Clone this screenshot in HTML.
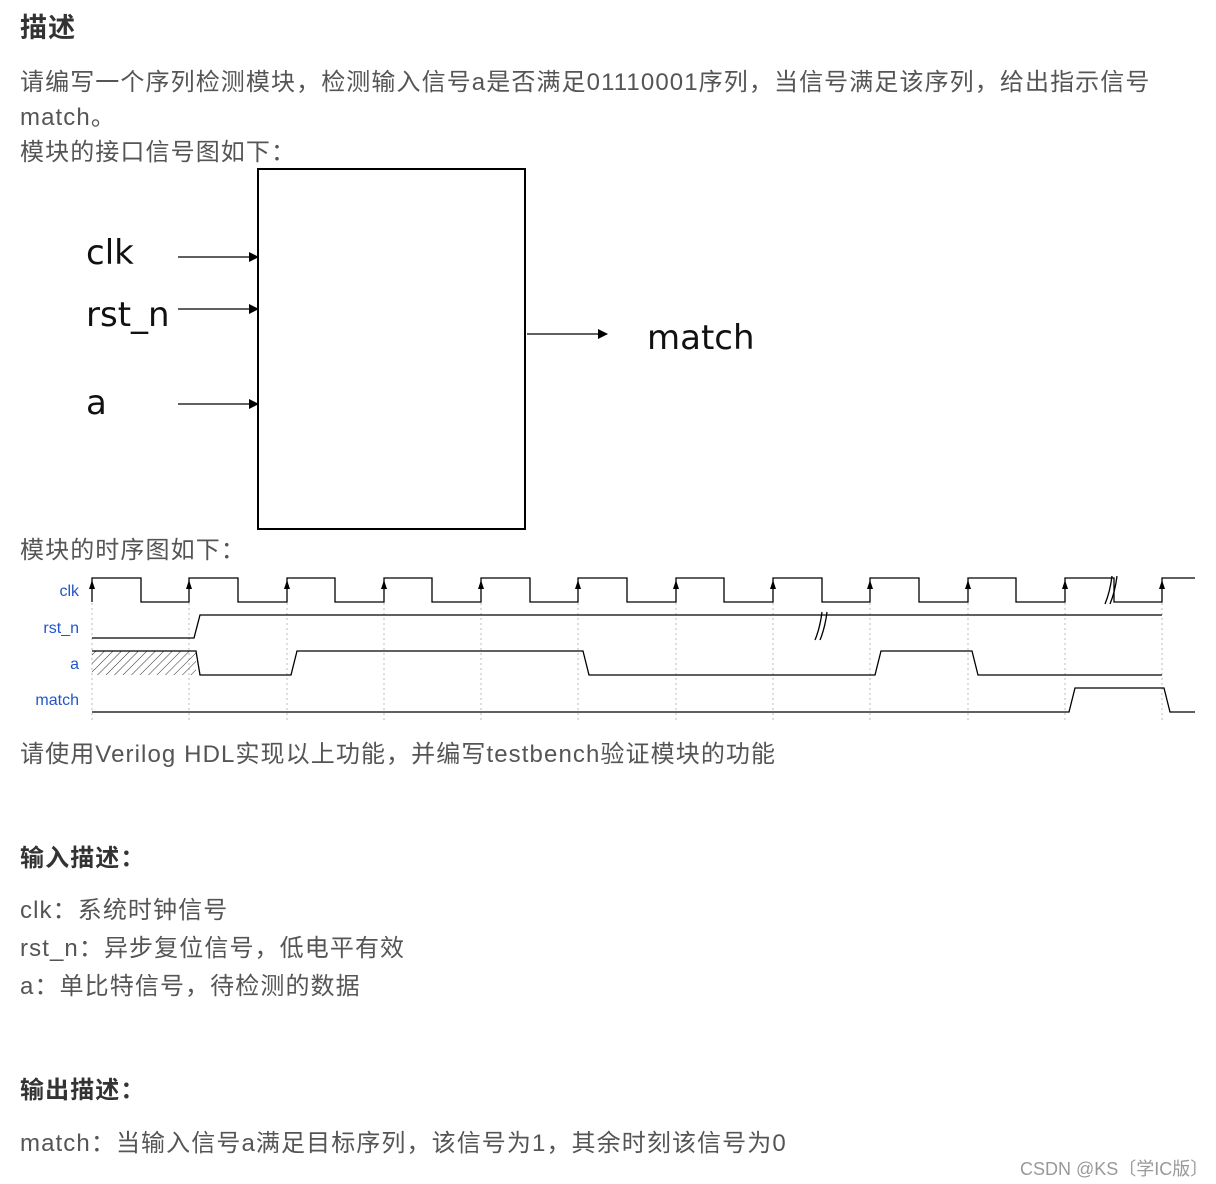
<!DOCTYPE html>
<html><head><meta charset="utf-8"><style>
body{margin:0;width:1216px;height:1184px;background:#fff;position:relative;overflow:hidden;font-family:"Liberation Sans","Noto Sans CJK SC",sans-serif;color:#555}
.t{position:absolute;left:20px;font-size:24px;white-space:nowrap;line-height:30px;letter-spacing:1.1px}
.b{font-weight:bold;color:#333}
</style></head><body>
<div class="t b" style="top:13px;font-size:27px">描述</div>
<div class="t" style="top:68px">请编写一个序列检测模块，检测输入信号a是否满足01110001序列，当信号满足该序列，给出指示信号</div>
<div class="t" style="top:103px">match。</div>
<div class="t" style="top:138px">模块的接口信号图如下：</div>
<div class="t" style="top:536px">模块的时序图如下：</div>
<div class="t" style="top:740px">请使用Verilog HDL实现以上功能，并编写testbench验证模块的功能</div>
<div class="t b" style="top:844px">输入描述：</div>
<div class="t" style="top:896px">clk：系统时钟信号</div>
<div class="t" style="top:934px">rst_n：异步复位信号，低电平有效</div>
<div class="t" style="top:972px">a：单比特信号，待检测的数据</div>
<div class="t b" style="top:1076px">输出描述：</div>
<div class="t" style="top:1129px">match：当输入信号a满足目标序列，该信号为1，其余时刻该信号为0</div>
<div style="position:absolute;left:1020px;top:1155px;font-size:18px;color:#999;white-space:nowrap">CSDN @KS〔学IC版〕</div>
<svg width="1216" height="1184" style="position:absolute;left:0;top:0" xmlns="http://www.w3.org/2000/svg">
<defs>
<marker id="ar" markerWidth="10" markerHeight="10" refX="9" refY="5" orient="auto" markerUnits="userSpaceOnUse"><path d="M0,0 L10,5 L0,10 z" fill="#000"/></marker>
<pattern id="h" width="6" height="6" patternUnits="userSpaceOnUse" patternTransform="rotate(45)"><line x1="0" y1="0" x2="0" y2="6" stroke="#333" stroke-width="1"/></pattern>
</defs>
<rect x="258" y="169" width="267" height="360" fill="none" stroke="#000" stroke-width="2"/>
<g stroke="#000" stroke-width="1.2">
<line x1="178" y1="257" x2="258" y2="257" marker-end="url(#ar)"/>
<line x1="178" y1="309" x2="258" y2="309" marker-end="url(#ar)"/>
<line x1="178" y1="404" x2="258" y2="404" marker-end="url(#ar)"/>
<line x1="527" y1="334" x2="607" y2="334" marker-end="url(#ar)"/>
</g>
<g font-family="DejaVu Sans, Liberation Sans, sans-serif" font-size="34" fill="#111">
<text x="86" y="264">clk</text>
<text x="86" y="326">rst_n</text>
<text x="86" y="414">a</text>
<text x="647" y="349">match</text>
</g>
<g font-size="16" fill="#2255cc" text-anchor="end" font-family="Liberation Sans, sans-serif">
<text x="79" y="596">clk</text>
<text x="79" y="633">rst_n</text>
<text x="79" y="669">a</text>
<text x="79" y="705">match</text>
</g>
<g stroke="#bbb" stroke-width="1" stroke-dasharray="2,3">
<line x1="92" y1="578" x2="92" y2="722"/><line x1="189" y1="578" x2="189" y2="722"/><line x1="287" y1="578" x2="287" y2="722"/><line x1="384" y1="578" x2="384" y2="722"/><line x1="481" y1="578" x2="481" y2="722"/><line x1="578" y1="578" x2="578" y2="722"/><line x1="676" y1="578" x2="676" y2="722"/><line x1="773" y1="578" x2="773" y2="722"/><line x1="870" y1="578" x2="870" y2="722"/><line x1="968" y1="578" x2="968" y2="722"/><line x1="1065" y1="578" x2="1065" y2="722"/><line x1="1162" y1="578" x2="1162" y2="722"/>
</g>
<rect x="92" y="651" width="104" height="24" fill="url(#h)"/>
<g fill="none" stroke="#000" stroke-width="1.3">
<path d="M92 602 V578 H141 V602 H189 V578 H238 V602 H287 V578 H335 V602 H384 V578 H432 V602 H481 V578 H530 V602 H578 V578 H627 V602 H676 V578 H724 V602 H773 V578 H822 V602 H870 V578 H919 V602 H968 V578 H1016 V602 H1065 V578 H1114 V602 H1162 V578 H1195"/>
<path d="M92 638 H194 L200 615 H1162"/>
<path d="M92 651 H196 L200 675 H291 L297 651 H583 L589 675 H875 L881 651 H972 L978 675 H1162"/>
<path d="M92 712 H1069 L1075 688 H1164 L1170 712 H1195"/>
<path d="M815 640 Q820 628 822 612 M820 640 Q825 628 827 612"/>
<path d="M1105 604 Q1110 592 1112 576 M1110 604 Q1115 592 1117 576"/>
</g>
<g fill="#000">
<path d="M92 580 l-3 9 h6z"/><path d="M189 580 l-3 9 h6z"/><path d="M287 580 l-3 9 h6z"/><path d="M384 580 l-3 9 h6z"/><path d="M481 580 l-3 9 h6z"/><path d="M578 580 l-3 9 h6z"/><path d="M676 580 l-3 9 h6z"/><path d="M773 580 l-3 9 h6z"/><path d="M870 580 l-3 9 h6z"/><path d="M968 580 l-3 9 h6z"/><path d="M1065 580 l-3 9 h6z"/><path d="M1162 580 l-3 9 h6z"/>
</g>
</svg>
</body></html>
